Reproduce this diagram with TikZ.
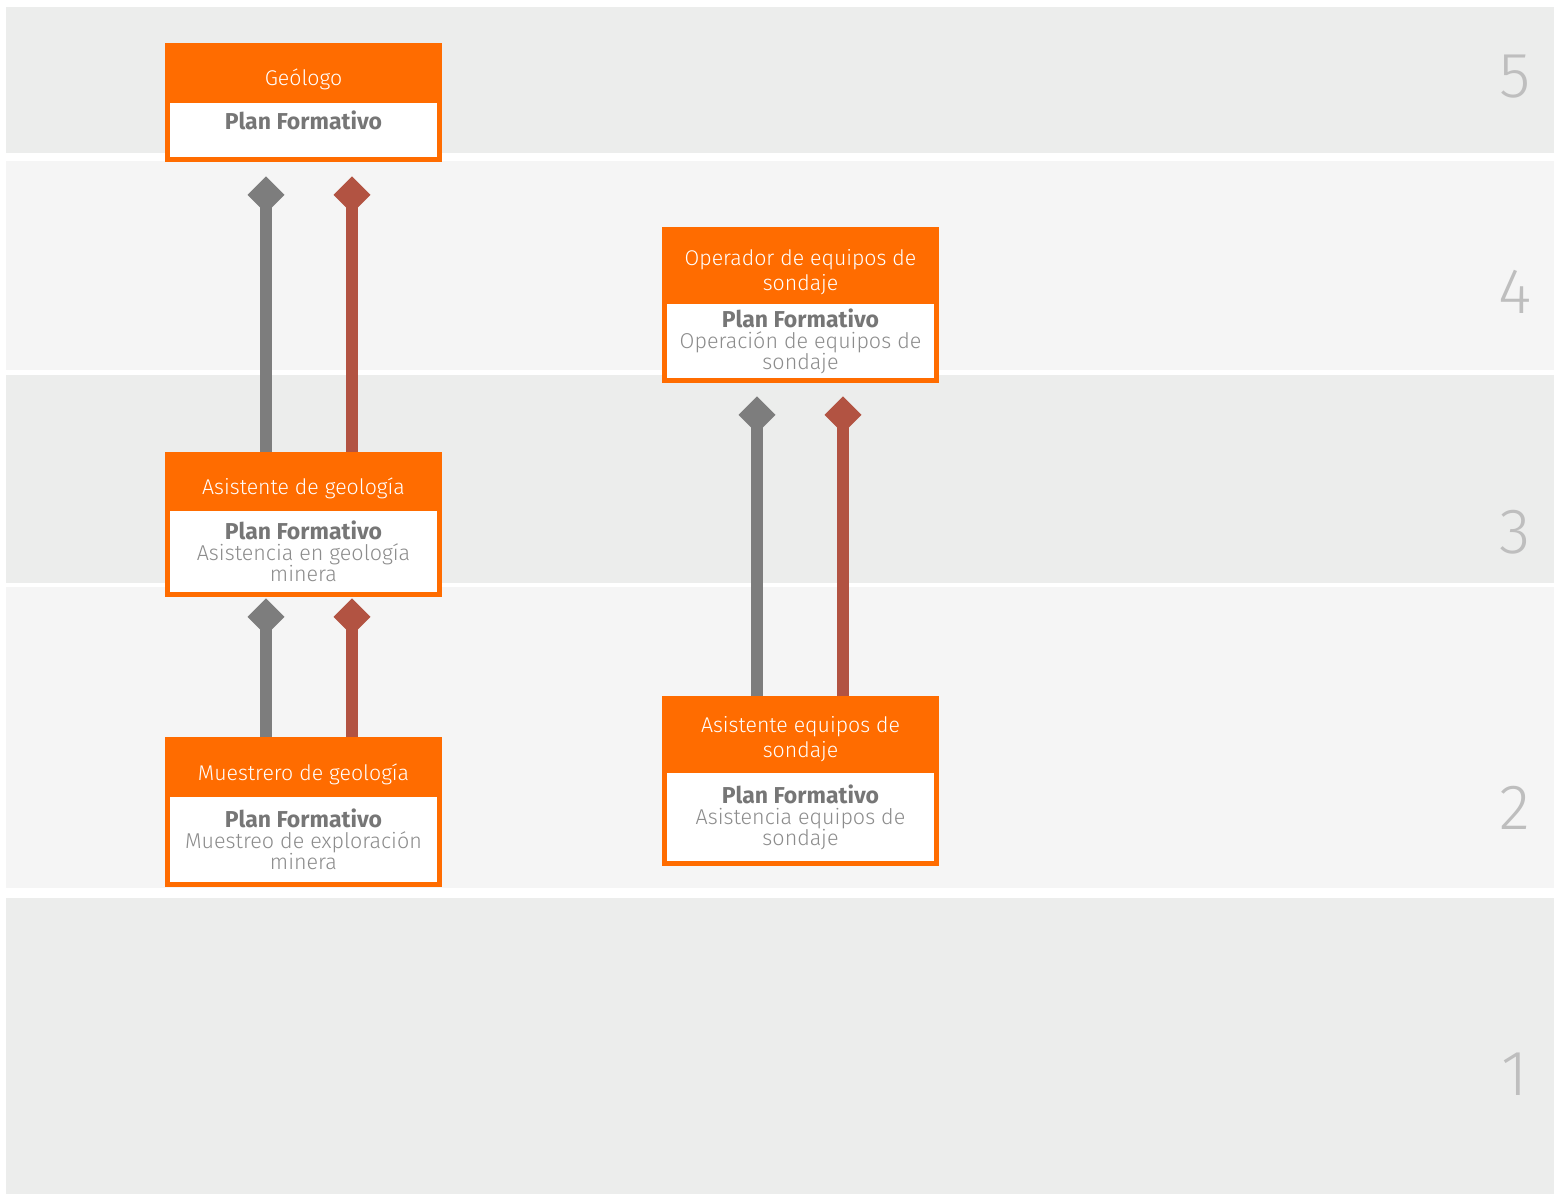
\documentclass[tikz,border=0pt]{standalone}
\usepackage{fontspec}
\setmainfont{Fira Sans}
\newfontfamily\ligera{Fira Sans Light}
\usetikzlibrary{arrows.meta, positioning}

\definecolor{naranja}{RGB}{255,108,0}
\definecolor{franjaA}{RGB}{236,237,236}
\definecolor{franjaB}{RGB}{245,245,245}
\definecolor{flechaGris}{RGB}{125,125,125}
\definecolor{flechaRoja}{RGB}{178,83,66}
\definecolor{textoGris}{RGB}{118,118,118}
\definecolor{textoClaro}{RGB}{140,140,140}
\definecolor{nivelGris}{RGB}{190,190,190}

\tikzset{
	puesto/.style={fill=naranja, minimum width=277pt, inner sep=0pt, anchor=north},
	plan/.style={fill=white, minimum width=267pt, inner sep=0pt, anchor=south, align=center,
		text=textoClaro, font=\ligera\fontsize{21.5}{21}\selectfont},
	titulo/.style={text=white, align=center, anchor=base, font=\ligera\fontsize{21.3}{24.5}\selectfont},
	numero/.style={text=nivelGris, anchor=base, font=\ligera\fontsize{64}{64}\selectfont},
	flecha/.style={line width=12pt, -{Kite[length=37pt, width=37pt, inset=18.5pt, line width=0pt]}},
}
\newcommand{\planf}{{\normalfont\bfseries\fontsize{23}{21}\selectfont\color{textoGris}Plan Formativo}}

\begin{document}
\begin{tikzpicture}[x=1pt, y=-1pt]
				\useasboundingbox (0,0) rectangle (1554,1194);

				% franjas de nivel
				\fill[franjaA] (6,7) rectangle (1554,153);
				\fill[franjaB] (6,161) rectangle (1554,370);
				\fill[franjaA] (6,375) rectangle (1554,583);
				\fill[franjaB] (6,587) rectangle (1554,888);
				\fill[franjaA] (6,898) rectangle (1554,1194);

				\foreach \n/\y in {5/97, 4/313, 3/553, 2/829, 1/1095}
					\node[numero] (nivel\n) at (1515,\y) {\n};

				% columna izquierda
				\node[puesto, minimum height=119pt] (geologo) at (303.5,43) {};
				\node[plan, minimum height=54pt] (geologoPF) at ([yshift=5pt]geologo.south) {\planf\\\mbox{}};
				\node[titulo] (geologoT) at (303.5,85) {Geólogo};

				\node[puesto, minimum height=145pt] (asisgeo) at (303.5,452) {};
				\node[plan, minimum height=81pt] (asisgeoPF) at ([yshift=5pt]asisgeo.south) {\planf\\Asistencia en geología\\minera};
				\node[titulo] (asisgeoT) at (303.5,494) {Asistente de geología};

				\node[puesto, minimum height=150pt] (muestrero) at (303.5,737) {};
				\node[plan, minimum height=85pt] (muestreroPF) at ([yshift=5pt]muestrero.south) {\planf\\Muestreo de exploración\\minera};
				\node[titulo] (muestreroT) at (303.5,780) {Muestrero de geología};

				% columna derecha
				\node[puesto, minimum height=156pt] (operador) at (800.5,227) {};
				\node[plan, minimum height=74pt] (operadorPF) at ([yshift=5pt]operador.south) {\planf\\Operación de equipos de\\sondaje};
				\node[titulo] (operadorT) at (800.5,290) {Operador de equipos de\\sondaje};

				\node[puesto, minimum height=170pt] (asisequ) at (800.5,696) {};
				\node[plan, minimum height=88pt] (asisequPF) at ([yshift=5pt]asisequ.south) {\planf\\Asistencia equipos de\\sondaje};
				\node[titulo] (asisequT) at (800.5,757) {Asistente equipos de\\sondaje};

				% flechas
				\draw[flecha, flechaGris, shorten >=14pt] ([xshift=-37.5pt]asisgeo.north) -- ([xshift=-37.5pt]geologo.south);
				\draw[flecha, flechaRoja, shorten >=14pt] ([xshift=48.5pt]asisgeo.north) -- ([xshift=48.5pt]geologo.south);

				\draw[flecha, flechaGris, shorten >=1pt] ([xshift=-37.5pt]muestrero.north) -- ([xshift=-37.5pt]asisgeo.south);
				\draw[flecha, flechaRoja, shorten >=1pt] ([xshift=48.5pt]muestrero.north) -- ([xshift=48.5pt]asisgeo.south);

				\draw[flecha, flechaGris, shorten >=13pt] ([xshift=-43.5pt]asisequ.north) -- ([xshift=-43.5pt]operador.south);
				\draw[flecha, flechaRoja, shorten >=13pt] ([xshift=42.5pt]asisequ.north) -- ([xshift=42.5pt]operador.south);
\end{tikzpicture}
\end{document}
